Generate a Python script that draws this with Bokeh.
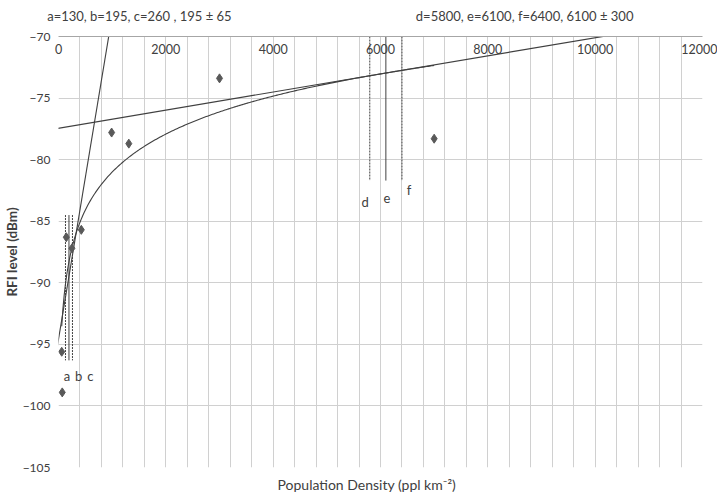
import numpy as np
from bokeh.plotting import figure
from bokeh.models import FixedTicker, ColumnDataSource, LinearAxis, Title
from bokeh.core.properties import value
from bokeh.embed import file_html
from bokeh.resources import INLINE

# ---- data ----
density = [60, 70, 145, 250, 425, 990, 1310, 3000, 7000]
rfi_level = [-95.6, -98.9, -86.3, -87.2, -85.7, -77.8, -78.7, -73.4, -78.3]

x_ticks = [0, 2000, 4000, 6000, 8000, 10000, 12000]
x_minor_step = 400
y_ticks = [-70, -75, -80, -85, -90, -95, -100, -105]

# trend lines (coefficients)
steep_slope, steep_intercept = 0.0263, -94.6
steep_span = [-20, 935]
flat_slope, flat_intercept = 7.35e-4, -77.45
flat_span = [-100, 10150]
log_a, log_b = 4.45, -111.75
log_span = [60, 7000]

# marker lines
low_marks = [130, 195, 260]
low_names = ["a", "b", "c"]
low_extent = [-84.5, -96.3]
low_label_x = [157, 374, 593]
low_label_y = [-97.6, -97.6, -97.6]

high_marks = [5800, 6100, 6400]
high_names = ["d", "e", "f"]
high_extent = [-70, -81.7]
high_label_x = [5712, 6118, 6530]
high_label_y = [-83.45, -83.13, -82.5]

note_low = "a=130, b=195, c=260 , 195 \u00b1 65"
note_high = "d=5800, e=6100, f=6400, 6100 \u00b1 300"
note_pos = [1508, 8686]
x_title = "Population Density (ppl  km\u207b\u00b2)"
y_title = "RFI level (dBm)"

FONT = "Lato"
INK = "#404040"
GRID = "#d0d0d0"

p = figure(width=717, height=499, x_range=(0, 12000), y_range=(-105, -70),
           output_backend="svg", toolbar_location=None,
           x_axis_location="above",
           min_border_left=58, min_border_right=15, min_border_top=36,
           min_border_bottom=32)
p.outline_line_color = None
p.background_fill_color = "white"

# x axis on the top edge, labels drawn below the line
xa = p.xaxis[0]
xa.ticker = FixedTicker(ticks=x_ticks)
xa.major_tick_line_color = None
xa.minor_tick_line_color = None
xa.major_tick_out = 0
xa.major_tick_in = 0
xa.axis_line_color = "#a6a6a6"
xa.major_label_text_font = FONT
xa.major_label_text_font_size = "12.5px"
xa.major_label_text_color = INK
xa.major_label_standoff = -17

ya = p.yaxis[0]
ya.ticker = FixedTicker(ticks=y_ticks)
ya.major_tick_line_color = None
ya.minor_tick_line_color = None
ya.major_tick_out = 0
ya.major_tick_in = 0
ya.axis_line_color = None
ya.major_label_text_font = FONT
ya.major_label_text_font_size = "12px"
ya.major_label_text_color = INK
ya.major_label_standoff = 8
ya.axis_label = y_title
ya.axis_label_text_font = FONT
ya.axis_label_text_font_style = "bold"
ya.axis_label_text_font_size = "13.5px"
ya.axis_label_text_color = INK
ya.axis_label_standoff = 0

# notes above the chart
notes = LinearAxis(ticker=FixedTicker(ticks=note_pos),
                   major_label_overrides={note_pos[0]: note_low,
                                          note_pos[1]: note_high},
                   axis_line_color=None, major_tick_line_color=None,
                   minor_tick_line_color=None, major_tick_out=0,
                   major_tick_in=0, major_label_standoff=13,
                   major_label_text_font=FONT,
                   major_label_text_font_size="13px",
                   major_label_text_color=INK)
p.add_layout(notes, "above")

p.add_layout(Title(text=x_title, align="left", offset=219, standoff=12,
                   text_font=FONT, text_font_size="14px",
                   text_font_style="normal", text_color=INK), "below")

p.xgrid.ticker = FixedTicker(ticks=list(range(0, 12001, x_minor_step)))
p.xgrid.grid_line_color = GRID
p.ygrid.ticker = FixedTicker(ticks=y_ticks)
p.ygrid.grid_line_color = GRID

# trend lines
sx = np.array(steep_span, dtype=float)
p.line(sx, steep_slope * sx + steep_intercept, line_color=INK, line_width=1.1)
fx = np.array(flat_span, dtype=float)
p.line(fx, flat_slope * fx + flat_intercept, line_color=INK, line_width=1.1)
lx = np.linspace(log_span[0], log_span[1], 300)
p.line(lx, log_a * np.log(lx) + log_b, line_color=INK, line_width=1.1)

# marker lines
for marks, extent in ((low_marks, low_extent), (high_marks, high_extent)):
    dashed = [marks[0], marks[2]]
    p.segment(x0=dashed, y0=[extent[0]] * 2, x1=dashed, y1=[extent[1]] * 2,
              line_color=INK, line_width=1, line_dash="2 1")
    p.segment(x0=[marks[1]], y0=[extent[0]], x1=[marks[1]], y1=[extent[1]],
              line_color=INK, line_width=1)

# points
p.scatter(density, rfi_level, marker="diamond", size=9,
          fill_color="#595959", line_color="#595959")

# letter labels
lab = ColumnDataSource(dict(x=low_label_x + high_label_x,
                            y=low_label_y + high_label_y,
                            t=low_names + high_names))
p.text(x="x", y="y", text="t", source=lab, text_font=value(FONT),
       text_font_size="13px", text_color=INK, text_align="center",
       text_baseline="middle")

open("out.html", "w").write(file_html(p, INLINE))
